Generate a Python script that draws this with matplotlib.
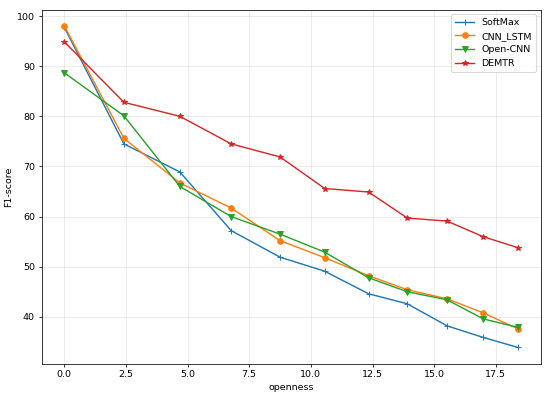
import matplotlib
matplotlib.use("Agg")
import matplotlib.pyplot as plt

# openness levels
openness = [0.0, 2.42, 4.69, 6.77, 8.75, 10.56, 12.34, 13.91, 15.52, 16.98, 18.39]

# F1-score per model
softmax = [97.8, 74.5, 68.9, 57.2, 51.9, 49.1, 44.6, 42.6, 38.2, 35.9, 33.9]
cnn_lstm = [98.1, 75.6, 66.7, 61.7, 55.2, 51.8, 48.2, 45.4, 43.6, 40.8, 37.6]
open_cnn = [88.7, 80.1, 66.0, 60.0, 56.5, 52.9, 47.8, 45.0, 43.4, 39.6, 37.9]
demtr = [94.9, 82.8, 80.0, 74.5, 71.9, 65.6, 64.9, 59.7, 59.1, 56.0, 53.8]

dpi = 68
fig = plt.figure(figsize=(550 / dpi, 395 / dpi), dpi=dpi)
ax = fig.add_axes([41.5 / 550, 1 - 363.5 / 395, (540.5 - 41.5) / 550, (363.5 - 9.5) / 395])

ax.plot(openness, softmax, marker='+', label="SoftMax")
ax.plot(openness, cnn_lstm, marker='o', label="CNN_LSTM")
ax.plot(openness, open_cnn, marker='v', label="Open-CNN")
ax.plot(openness, demtr, marker='*', label="DEMTR")

ax.set_xlabel("openness")
ax.set_ylabel("F1-score")
ax.grid(True, alpha=0.3)
ax.legend(loc="upper right")

fig.savefig("out.png", dpi=dpi)
